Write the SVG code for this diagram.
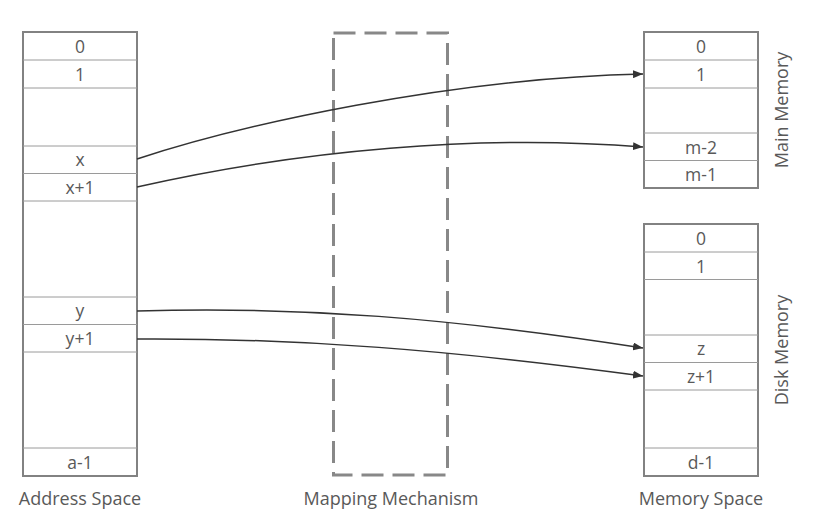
<svg xmlns="http://www.w3.org/2000/svg" width="814" height="520" viewBox="0 0 814 520">
<style>
.box{fill:#fff;stroke:#828282;stroke-width:2}
.div{stroke:#9a9a9a;stroke-width:1;fill:none}
.lbl{font-family:"Open Sans","Noto Sans",sans-serif;font-size:17.5px;fill:#595959;text-anchor:middle}
.cap{font-family:"Open Sans","Noto Sans",sans-serif;font-size:18px;fill:#595959;text-anchor:middle}
.conn{fill:none;stroke:#333;stroke-width:1.5}
.dash{fill:none;stroke:#888;stroke-width:3;stroke-dasharray:22 9}
</style>
<defs>
<marker id="arr" markerWidth="10" markerHeight="8" refX="10" refY="4" orient="auto" markerUnits="userSpaceOnUse">
<path d="M0,0 L10,4 L0,8 Z" fill="#333"/>
</marker>
</defs>
<rect width="814" height="520" fill="#fff"/>

<g id="address-space">
<rect class="box" x="23" y="32" width="114" height="444"/>
<path class="div" d="M23,60H137M23,88H137M23,146H137M23,173.5H137M23,201H137M23,297H137M23,324.5H137M23,352H137M23,448H137"/>
<text class="lbl" x="80" y="53">0</text>
<text class="lbl" x="80" y="81">1</text>
<text class="lbl" x="80" y="166">x</text>
<text class="lbl" x="80" y="193.5">x+1</text>
<text class="lbl" x="80" y="317">y</text>
<text class="lbl" x="80" y="344.5">y+1</text>
<text class="lbl" x="80" y="469">a-1</text>
<text class="cap" x="80" y="505">Address Space</text>
</g>

<g id="mapping-mechanism">
<rect class="dash" x="333.5" y="33" width="114" height="442"/>
<text class="cap" x="391" y="505">Mapping Mechanism</text>
</g>

<g id="main-memory">
<rect class="box" x="644" y="32" width="114" height="156"/>
<path class="div" d="M644,60H758M644,88H758M644,133H758M644,160.5H758"/>
<text class="lbl" x="701" y="53">0</text>
<text class="lbl" x="701" y="81">1</text>
<text class="lbl" x="701" y="153.5">m-2</text>
<text class="lbl" x="701" y="181">m-1</text>
<text class="cap" transform="translate(788,110) rotate(-90)" x="0" y="0">Main Memory</text>
</g>

<g id="disk-memory">
<rect class="box" x="644" y="224" width="114" height="252"/>
<path class="div" d="M644,252H758M644,279.5H758M644,335H758M644,362.5H758M644,390H758M644,448H758"/>
<text class="lbl" x="701" y="245">0</text>
<text class="lbl" x="701" y="273">1</text>
<text class="lbl" x="701" y="355">z</text>
<text class="lbl" x="701" y="383">z+1</text>
<text class="lbl" x="701" y="469">d-1</text>
<text class="cap" transform="translate(788,350) rotate(-90)" x="0" y="0">Disk Memory</text>
<text class="cap" x="701" y="505">Memory Space</text>
</g>

<g id="connectors">
<path class="conn" marker-end="url(#arr)" d="M137,159 C240,125 450,78 643,74"/>
<path class="conn" marker-end="url(#arr)" d="M137,187 C300,150 480,134 643,147"/>
<path class="conn" marker-end="url(#arr)" d="M137,311 C300,306 450,318 643,348"/>
<path class="conn" marker-end="url(#arr)" d="M137,339 C300,338 450,350 643,376"/>
</g>
</svg>
